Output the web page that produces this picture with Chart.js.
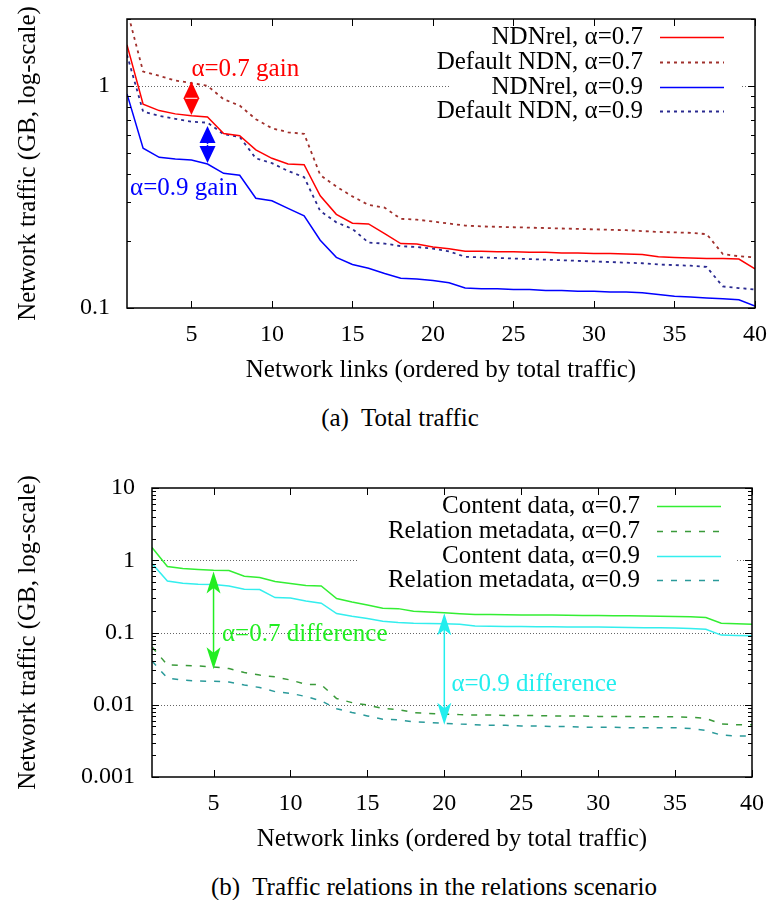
<!DOCTYPE html>
<html>
<head>
<meta charset="utf-8">
<script src="https://cdn.jsdelivr.net/npm/chart.js@4.4.1/dist/chart.umd.min.js"></script>
<style>
  body { margin: 0; background: #fff; width: 771px; height: 900px; position: relative; overflow: hidden; font-family: "Liberation Serif", "Times New Roman", serif; }
  canvas { position: absolute; left: 0; }
  .cap { position: absolute; font-size: 25px; line-height: 28px; white-space: pre; transform: translateX(-50%); color: #000; }
</style>
</head>
<body>
<canvas id="top" width="771" height="390" style="top:0"></canvas>
<canvas id="bottom" width="771" height="419" style="top:440px"></canvas>
<div class="cap" style="left:400px; top:404px">(a)  Total traffic</div>
<div class="cap" style="left:434px; top:873px">(b)  Traffic relations in the relations scenario</div>
<script>
const SERIF = '"Liberation Serif", "Times New Roman", serif';

// x positions: link rank 1..40
const links = Array.from({ length: 40 }, (_, i) => i + 1);
const xTicks = [5, 10, 15, 20, 25, 30, 35, 40];
const topYTicks = [0.1, 1];
const bottomYTicks = [0.001, 0.01, 0.1, 1, 10];

// (a) total traffic, GB
const ndnrel07 = [1.53, 0.827, 0.774, 0.748, 0.733, 0.725, 0.61, 0.597, 0.515, 0.472,
  0.445, 0.442, 0.32, 0.264, 0.241, 0.239, 0.216, 0.195, 0.194, 0.188,
  0.185, 0.180, 0.180, 0.179, 0.179, 0.178, 0.178, 0.177, 0.177, 0.176,
  0.176, 0.175, 0.174, 0.170, 0.169, 0.168, 0.167, 0.167, 0.166, 0.150];
const default07 = [2.2, 1.16, 1.11, 1.057, 1.03, 1.0, 0.871, 0.815, 0.708, 0.645,
  0.618, 0.608, 0.397, 0.352, 0.318, 0.291, 0.283, 0.252, 0.25, 0.245,
  0.240, 0.235, 0.233, 0.232, 0.231, 0.230, 0.229, 0.228, 0.227, 0.226,
  0.225, 0.224, 0.222, 0.220, 0.219, 0.218, 0.215, 0.175, 0.171, 0.169];
const ndnrel09 = [0.92, 0.524, 0.477, 0.468, 0.464, 0.445, 0.404, 0.396, 0.312, 0.304,
  0.281, 0.26, 0.202, 0.169, 0.157, 0.151, 0.143, 0.136, 0.135, 0.133,
  0.130, 0.123, 0.122, 0.122, 0.121, 0.121, 0.120, 0.120, 0.119, 0.119,
  0.118, 0.118, 0.117, 0.115, 0.113, 0.112, 0.111, 0.110, 0.109, 0.102];
const default09 = [1.38, 0.766, 0.733, 0.71, 0.69, 0.683, 0.606, 0.589, 0.472, 0.449,
  0.414, 0.388, 0.273, 0.243, 0.227, 0.197, 0.195, 0.19, 0.188, 0.185,
  0.180, 0.170, 0.169, 0.168, 0.167, 0.166, 0.165, 0.164, 0.163, 0.162,
  0.161, 0.160, 0.159, 0.157, 0.156, 0.155, 0.153, 0.125, 0.123, 0.121];

// (b) content vs relation metadata, GB
const content07 = [1.5, 0.818, 0.767, 0.743, 0.727, 0.72, 0.6, 0.576, 0.507, 0.476,
  0.446, 0.44, 0.295, 0.265, 0.241, 0.217, 0.214, 0.197, 0.192, 0.188,
  0.182, 0.178, 0.177, 0.176, 0.175, 0.175, 0.174, 0.173, 0.172, 0.172,
  0.171, 0.170, 0.169, 0.168, 0.167, 0.165, 0.161, 0.134, 0.132, 0.130];
const meta07 = [0.063, 0.0356, 0.035, 0.0345, 0.0334, 0.0317, 0.0279, 0.0258, 0.0243, 0.022,
  0.0192, 0.0189, 0.0122, 0.0107, 0.0099, 0.0089, 0.0086, 0.0078, 0.0076, 0.0074,
  0.0073, 0.0072, 0.0072, 0.0071, 0.0071, 0.0071, 0.0070, 0.0070, 0.0070, 0.0069,
  0.0069, 0.0069, 0.0068, 0.0068, 0.0068, 0.0067, 0.0065, 0.0054, 0.0053, 0.0053];
const content09 = [0.9, 0.517, 0.48, 0.466, 0.462, 0.44, 0.397, 0.393, 0.304, 0.3,
  0.273, 0.254, 0.183, 0.168, 0.156, 0.143, 0.137, 0.134, 0.133, 0.132,
  0.130, 0.123, 0.122, 0.121, 0.121, 0.120, 0.120, 0.119, 0.119, 0.119,
  0.118, 0.117, 0.116, 0.116, 0.115, 0.114, 0.111, 0.092, 0.091, 0.090];
const meta09 = [0.0404, 0.0233, 0.022, 0.0213, 0.0211, 0.0207, 0.0188, 0.0173, 0.0152, 0.0144,
  0.013, 0.0113, 0.0088, 0.0078, 0.007, 0.0063, 0.0062, 0.0058, 0.0057, 0.0055,
  0.0054, 0.0053, 0.0052, 0.0052, 0.0051, 0.0051, 0.0050, 0.0050, 0.0049, 0.0049,
  0.0049, 0.0048, 0.0048, 0.0048, 0.0048, 0.0047, 0.0044, 0.0038, 0.0037, 0.0037];

// annotations (data coordinates)
const topArrows = [
  { x: 5, from: 1.045, to: 0.74, color: '#ff0000' },
  { x: 6, from: 0.66, to: 0.45, color: '#0000ff' }
];
const topNotes = [
  { text: 'α=0.7 gain', x: 5, y: 1.18, color: '#ff0000' },
  { text: 'α=0.9 gain', x: 1.19, y: 0.347, color: '#0000ff' }
];
const bottomArrows = [
  { x: 5, from: 0.70, to: 0.031, color: '#22ee22' },
  { x: 20, from: 0.185, to: 0.0053, color: '#22eeee' }
];
const bottomNotes = [
  { text: 'α=0.7 difference', x: 5.55, y: 0.095, color: '#22ee22' },
  { text: 'α=0.9 difference', x: 20.46, y: 0.0192, color: '#22eeee' }
];

const extras = {
  top: { yTicks: topYTicks, arrows: topArrows, notes: topNotes, head: { len: 17, w: 8, back: 1 }, box: { left: 304, right: 15, height: 104 } },
  bottom: { yTicks: bottomYTicks, arrows: bottomArrows, notes: bottomNotes, head: { len: 22, w: 7, back: 0.75 }, box: { left: 394, right: 17, height: 105 } }
};

const pts = vals => vals.map((v, i) => ({ x: links[i], y: v }));

function arrow(ctx, x, ya, yb, color, h, diamond) {
  ctx.strokeStyle = color;
  ctx.fillStyle = color;
  ctx.lineWidth = 1.5;
  ctx.beginPath();
  ctx.moveTo(x, ya + h.len * 0.5);
  ctx.lineTo(x, yb - h.len * 0.5);
  ctx.stroke();
  [[ya, 1], [yb, -1]].forEach(([tip, d]) => {
    ctx.beginPath();
    ctx.moveTo(x, tip);
    ctx.lineTo(x - h.w, tip + d * h.len);
    ctx.lineTo(x, tip + d * h.len * h.back);
    ctx.lineTo(x + h.w, tip + d * h.len);
    ctx.closePath();
    ctx.fill();
  });
  if (diamond) {
    // thin light seam between the two heads
    const mid = (ya + yb) / 2;
    ctx.strokeStyle = '#fff';
    ctx.lineWidth = 1;
    ctx.beginPath();
    ctx.moveTo(x - h.w + 2, mid);
    ctx.lineTo(x + h.w - 2, mid);
    ctx.stroke();
  }
}

const gnu = {
  id: 'gnu',
  beforeDatasetsDraw(chart) {
    const o = extras[chart.canvas.id];
    const { ctx, chartArea: a, scales: { y } } = chart;
    ctx.save();
    ctx.strokeStyle = '#666';
    ctx.lineWidth = 1;
    ctx.setLineDash([1, 2]);
    o.yTicks.forEach(v => {
      const py = Math.round(y.getPixelForValue(v)) + 0.5;
      if (py <= a.top + 2 || py >= a.bottom - 2) return;
      ctx.beginPath();
      ctx.moveTo(a.left, py);
      ctx.lineTo(a.right, py);
      ctx.stroke();
    });
    ctx.setLineDash([]);
    // key box is opaque
    ctx.fillStyle = '#fff';
    ctx.fillRect(a.right - o.box.left, a.top + 1, o.box.left - o.box.right, o.box.height);
    ctx.restore();
  },
  afterDatasetsDraw(chart) {
    const o = extras[chart.canvas.id];
    const { ctx, chartArea: a, scales: { x, y } } = chart;
    ctx.save();

    // frame
    ctx.strokeStyle = '#000';
    ctx.lineWidth = 1.5;
    ctx.strokeRect(a.left, a.top, a.right - a.left, a.bottom - a.top);

    // tick marks, inside, mirrored
    ctx.lineWidth = 1;
    ctx.beginPath();
    xTicks.forEach(v => {
      const px = Math.round(x.getPixelForValue(v)) + 0.5;
      ctx.moveTo(px, a.bottom); ctx.lineTo(px, a.bottom - 7);
      ctx.moveTo(px, a.top); ctx.lineTo(px, a.top + 7);
    });
    const lo = Math.floor(Math.log10(y.min)), hi = Math.ceil(Math.log10(y.max));
    for (let d = lo; d <= hi; d++) {
      for (let k = 1; k <= 9; k++) {
        const v = k * Math.pow(10, d);
        if (v < y.min * 0.999 || v > y.max * 1.001) continue;
        const len = k === 1 ? 7 : 4;
        const py = Math.round(y.getPixelForValue(v)) + 0.5;
        ctx.moveTo(a.left, py); ctx.lineTo(a.left + len, py);
        ctx.moveTo(a.right, py); ctx.lineTo(a.right - len, py);
      }
    }
    ctx.stroke();

    // arrows and their labels
    o.arrows.forEach(ar => {
      arrow(ctx, x.getPixelForValue(ar.x), y.getPixelForValue(ar.from), y.getPixelForValue(ar.to), ar.color, o.head, o.head.back === 1);
    });
    ctx.font = '25px ' + SERIF;
    ctx.textAlign = 'left';
    ctx.textBaseline = 'middle';
    o.notes.forEach(n => {
      ctx.fillStyle = n.color;
      ctx.fillText(n.text, x.getPixelForValue(n.x), y.getPixelForValue(n.y));
    });

    // key: text right aligned, sample to the right
    chart.data.datasets.forEach((ds, i) => {
      const ry = Math.round(a.top + 18 + i * 24.8) + 0.5;
      ctx.fillStyle = '#000';
      ctx.textAlign = 'right';
      ctx.fillText(ds.label, a.right - 112, ry);
      ctx.strokeStyle = ds.borderColor;
      ctx.lineWidth = ds.borderWidth;
      ctx.setLineDash(ds.borderDash || []);
      ctx.beginPath();
      ctx.moveTo(a.right - 95, ry);
      ctx.lineTo(a.right - 31, ry);
      ctx.stroke();
      ctx.setLineDash([]);
    });
    ctx.restore();
  }
};

// drop the label overhang padding chart.js adds, so the plot box sits where we place it
function noPad(s) {
  s.paddingTop = 0; s.paddingBottom = 0; s.paddingLeft = 0; s.paddingRight = 0;
}

function buildChart(id, datasets, yMin, yMax, yTicks, yWidth, padTop, right) {
  return new Chart(document.getElementById(id), {
    type: 'line',
    data: { datasets },
    options: {
      responsive: false,
      animation: false,
      layout: { padding: { left: 0, top: padTop, right: 771 - right, bottom: 0 } },
      elements: { point: { radius: 0 }, line: { tension: 0 } },
      plugins: { legend: { display: false }, tooltip: { enabled: false } },
      scales: {
        x: {
          type: 'linear', min: 1, max: 40,
          grid: { display: false, drawTicks: false },
          border: { display: false },
          afterBuildTicks: s => { s.ticks = xTicks.map(v => ({ value: v })); },
          afterFit: s => { s.height = 82; noPad(s); },
          ticks: { padding: 12, color: '#000', maxRotation: 0, autoSkip: false, font: { family: SERIF, size: 24 } },
          title: { display: true, text: 'Network links (ordered by total traffic)', color: '#000', font: { family: SERIF, size: 25 }, padding: { top: 0, bottom: 5 } }
        },
        y: {
          type: 'logarithmic', min: yMin, max: yMax,
          grid: { display: false, drawTicks: false },
          border: { display: false },
          afterBuildTicks: s => { s.ticks = yTicks.map(v => ({ value: v })); },
          afterFit: s => { s.width = yWidth; noPad(s); },
          ticks: { padding: 17, color: '#000', autoSkip: false, font: { family: SERIF, size: 24 }, callback: v => String(v) },
          title: { display: true, text: 'Network traffic (GB, log-scale)', color: '#000', font: { family: SERIF, size: 25 }, padding: { top: 13, bottom: 0 } }
        }
      }
    },
    plugins: [gnu]
  });
}

buildChart('top', [
  { label: 'NDNrel, α=0.7', data: pts(ndnrel07), borderColor: '#ff0000', borderWidth: 1.5 },
  { label: 'Default NDN, α=0.7', data: pts(default07), borderColor: '#a0302c', borderWidth: 1.8, borderDash: [3, 4] },
  { label: 'NDNrel, α=0.9', data: pts(ndnrel09), borderColor: '#0000ff', borderWidth: 1.5 },
  { label: 'Default NDN, α=0.9', data: pts(default09), borderColor: '#2a2a90', borderWidth: 1.8, borderDash: [3, 4] }
], 0.1, 2, topYTicks, 127, 19, 755);

buildChart('bottom', [
  { label: 'Content data, α=0.7', data: pts(content07), borderColor: '#33ee33', borderWidth: 1.5 },
  { label: 'Relation metadata, α=0.7', data: pts(meta07), borderColor: '#3a9a3a', borderWidth: 1.5, borderDash: [6, 8] },
  { label: 'Content data, α=0.9', data: pts(content09), borderColor: '#33eeee', borderWidth: 1.5 },
  { label: 'Relation metadata, α=0.9', data: pts(meta09), borderColor: '#2a9a9a', borderWidth: 1.5, borderDash: [6, 8] }
], 0.001, 10, bottomYTicks, 152, 48, 752);
</script>
</body>
</html>
